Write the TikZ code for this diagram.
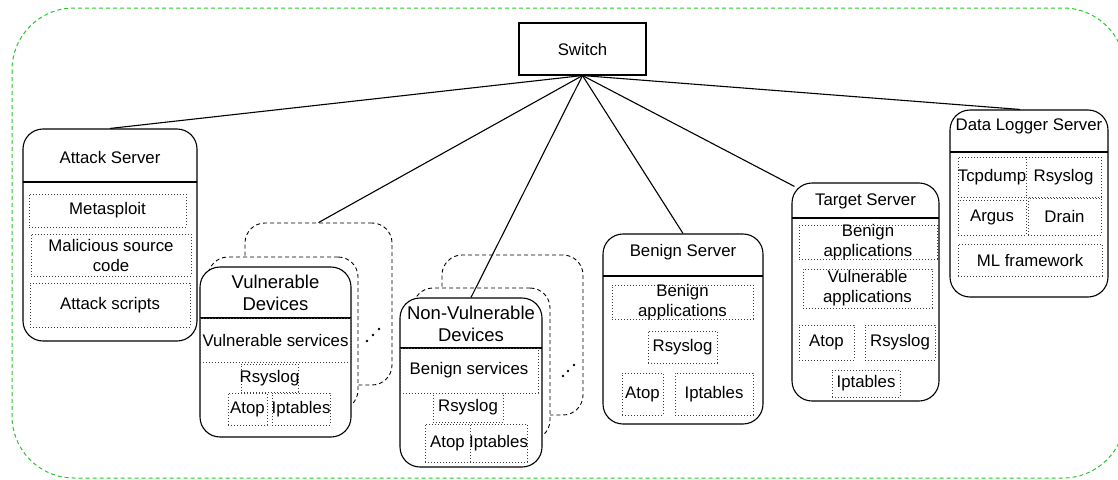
\documentclass[tikz,border=0pt]{standalone}
\usepackage{fontspec}
\setmainfont{Liberation Sans}
\usetikzlibrary{fit}
\definecolor{netgreen}{RGB}{40,200,40}
\begin{document}
\begin{tikzpicture}[x=1pt,y=-1pt,
  every node/.style={font=\fontsize{16.8}{20}\selectfont},
  server/.style={draw, line width=1.1pt, rounded corners=20pt, fill=white, inner sep=0pt},
  ghost/.style={draw, line width=0.9pt, dash pattern=on 4pt off 3pt, rounded corners=20pt, fill=white, inner sep=0pt},
  item/.style={draw=black!75, line width=0.9pt, dash pattern=on 0.9pt off 2.1pt, inner sep=0pt},
  lbl/.style={align=center, inner sep=0pt},
  title/.style={align=center, inner sep=0pt},
  bigtitle/.style={align=center, inner sep=0pt, font=\fontsize{18.5}{22}\selectfont},
  switchbox/.style={draw, line width=1.1pt, inner sep=0pt},
  link/.style={line width=1.1pt},
  divider/.style={line width=1.1pt},
  border/.style={draw=netgreen, line width=1pt, dash pattern=on 4pt off 3pt, rounded corners=62pt},
  dot/.style={fill=black}
]
\useasboundingbox (0,0) rectangle (1118,479);
\clip (0,0) rectangle (1118,479);

% network enclosure
\draw[border] (12,8) rectangle (1125,478);

% switch
\node[switchbox, fit={(519,23) (646,75)}] (sw) {};
\node[title] (swt) at (582.5,49) {Switch};

% attack server
\node[server, fit={(23,129) (197,341)}] (as) {};
\node[title] (ast) at (110,157) {Attack Server};
\draw[divider] (23,182) -- (197,182);
\node[item, fit={(29,194) (186,227)}, label={[lbl]center:Metasploit}] (as1) {};
\node[item, fit={(31,234) (191,276)}, label={[lbl]center:Malicious source\\code}] (as2) {};
\node[item, fit={(30,283) (190,327)}, label={[lbl]center:Attack scripts}] (as3) {};

% vulnerable devices (stacked)
\node[ghost, fit={(245,223) (392,385)}] (vd3) {};
\node[ghost, fit={(208,257) (358,410)}] (vd2) {};
\node[server, fit={(200,267) (351,437)}] (vd) {};
\node[bigtitle] (vdt) at (275.5,293) {Vulnerable\\Devices};
\draw[divider] (200,318) -- (351,318);
\node[item, fit={(200,318) (351,362)}, label={[lbl]center:Vulnerable services}] (vd1) {};
\node[item, fit={(241,364) (298,392)}, label={[lbl]center:Rsyslog}] (vd4) {};
\node[item, fit={(228,393) (267,425)}, label={[lbl]center:Atop}] (vd5) {};
\node[item, fit={(272,393) (330,425)}, label={[lbl]center:Iptables}] (vd6) {};
\fill[dot] (367,341) circle (1.4pt) (373,335) circle (1.4pt) (379,329) circle (1.4pt);

% non-vulnerable devices (stacked)
\node[ghost, fit={(442,255) (583,415)}] (nv3) {};
\node[ghost, fit={(413,288) (550,440)}] (nv2) {};
\node[server, fit={(400,298) (542,467)}] (nv) {};
\node[bigtitle] (nvt) at (471,324) {Non-Vulnerable\\Devices};
\draw[divider] (400,348) -- (542,348);
\node[item, fit={(400,348) (538,393)}, label={[lbl]center:Benign services}] (nv1) {};
\node[item, fit={(433,393) (503,422)}, label={[lbl]center:Rsyslog}] (nv4) {};
\node[item, fit={(425,424) (470,462)}, label={[lbl]center:Atop}] (nv5) {};
\node[item, fit={(470,424) (527,462)}, label={[lbl]center:Iptables}] (nv6) {};
\fill[dot] (563,376) circle (1.4pt) (568,371) circle (1.4pt) (574,365) circle (1.4pt);

% benign server
\node[server, fit={(603,234) (763,424)}] (bs) {};
\node[title] (bst) at (683,252) {Benign Server};
\draw[divider] (603,276) -- (763,276);
\node[item, fit={(612,285) (753,319)}, label={[lbl]center:Benign\\applications}] (bs1) {};
\node[item, fit={(648,331) (717,363)}, label={[lbl]center:Rsyslog}] (bs2) {};
\node[item, fit={(622,373) (663,415)}, label={[lbl]center:Atop}] (bs3) {};
\node[item, fit={(675,373) (753,415)}, label={[lbl]center:Iptables}] (bs4) {};

% target server
\node[server, fit={(792,183) (939,401)}] (ts) {};
\node[title] (tst) at (865.5,201) {Target Server};
\draw[divider] (792,218) -- (939,218);
\node[item, fit={(799,225) (937,259)}, label={[lbl]center:Benign\\applications}] (ts1) {};
\node[item, fit={(803,269) (932,308)}, label={[lbl]center:Vulnerable\\applications}] (ts2) {};
\node[item, fit={(799,325) (854,360)}, label={[lbl]center:Atop}] (ts3) {};
\node[item, fit={(865,325) (935,360)}, label={[lbl]center:Rsyslog}] (ts4) {};
\node[item, fit={(832,370) (900,397)}, label={[lbl]center:Iptables}] (ts5) {};

% data logger server
\node[server, fit={(950,110) (1108,297)}] (dl) {};
\node[title] (dlt) at (1029,126) {Data Logger Server};
\draw[divider] (950,152) -- (1108,152);
\node[item, fit={(958,157) (1026,197)}, label={[lbl]center:Tcpdump}] (dl1) {};
\node[item, fit={(1026,157) (1101,197)}, label={[lbl]center:Rsyslog}] (dl2) {};
\node[item, fit={(958,200) (1026,235)}, label={[lbl]center:Argus}] (dl3) {};
\node[item, fit={(1028,198) (1101,235)}, label={[lbl]center:Drain}] (dl4) {};
\node[item, fit={(958,244) (1102,276)}, label={[lbl]center:ML framework}] (dl5) {};

% links from the switch
\draw[link] (sw.south) -- (as.north);
\draw[link] (sw.south) -- (vd3.north);
\draw[link] (sw.south) -- (nv.north);
\draw[link] (sw.south) -- (bs.north);
\draw[link] (sw.south) -- ([xshift=3pt,yshift=-4pt]ts.north west);
\draw[link] (sw.south) -- ([xshift=-9pt]dl.north);
\end{tikzpicture}
\end{document}
